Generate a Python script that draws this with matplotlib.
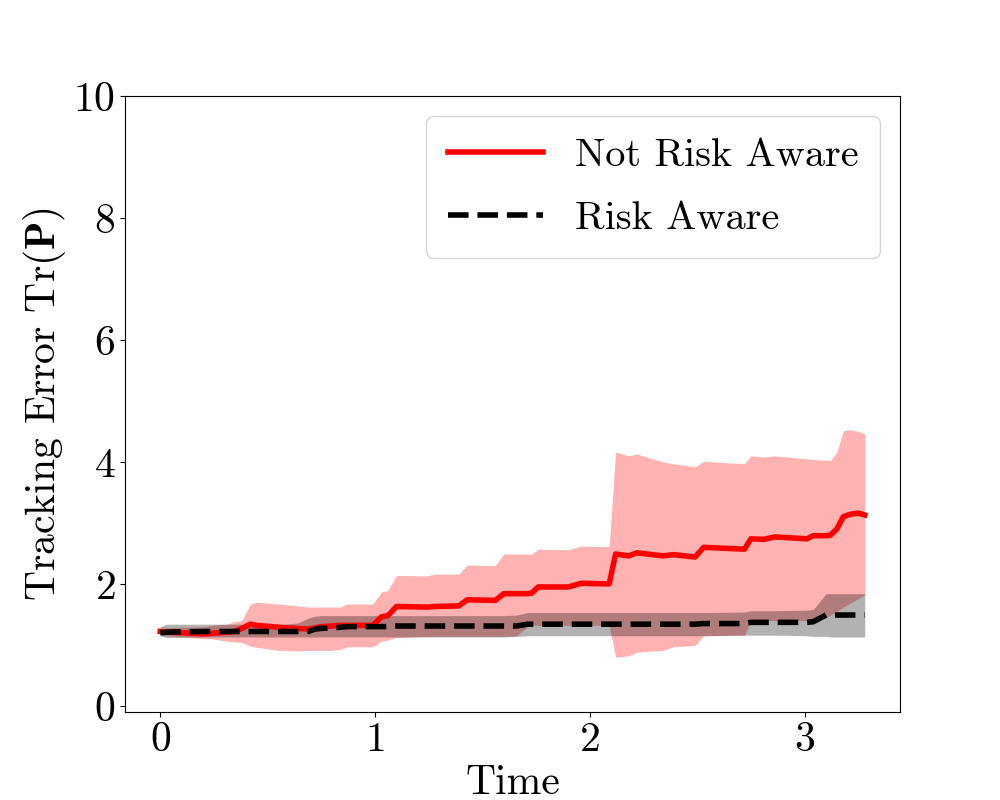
import matplotlib
matplotlib.use("Agg")
import matplotlib.pyplot as plt
import numpy as np

plt.rcParams['font.family'] = ['cmr10', 'DejaVu Serif']
plt.rcParams['mathtext.fontset'] = 'cm'
plt.rcParams['axes.formatter.use_mathtext'] = True

time = [0.00, 0.03, 0.21, 0.24, 0.31, 0.345, 0.38, 0.42, 0.45, 0.55, 0.58, 0.64,
        0.69, 0.72, 0.75, 0.80, 0.84, 0.87, 0.99, 1.03, 1.06, 1.10, 1.24, 1.28,
        1.39, 1.43, 1.56, 1.60, 1.66, 1.71, 1.73, 1.76, 1.90, 1.96, 2.09, 2.12,
        2.18, 2.22, 2.34, 2.39, 2.49, 2.53, 2.72, 2.75, 2.81, 2.86, 3.01, 3.04,
        3.10, 3.12, 3.15, 3.18, 3.21, 3.25, 3.28]

not_aware_mean = [1.22, 1.21, 1.18, 1.19, 1.21, 1.22, 1.27, 1.34, 1.32, 1.29, 1.28, 1.27,
                  1.26, 1.28, 1.30, 1.31, 1.32, 1.32, 1.32, 1.46, 1.48, 1.63, 1.62, 1.63,
                  1.64, 1.74, 1.73, 1.84, 1.84, 1.84, 1.85, 1.95, 1.95, 2.01, 2.00, 2.49,
                  2.46, 2.51, 2.46, 2.48, 2.44, 2.60, 2.57, 2.74, 2.73, 2.77, 2.74, 2.79,
                  2.79, 2.80, 2.90, 3.10, 3.14, 3.16, 3.13]

not_aware_upper = [1.28, 1.28, 1.30, 1.32, 1.34, 1.38, 1.40, 1.67, 1.70, 1.67, 1.66, 1.64,
                   1.62, 1.62, 1.62, 1.62, 1.62, 1.67, 1.67, 1.87, 1.89, 2.14, 2.13, 2.16,
                   2.16, 2.31, 2.30, 2.49, 2.49, 2.49, 2.49, 2.57, 2.56, 2.62, 2.61, 4.16,
                   4.10, 4.13, 4.00, 3.97, 3.92, 4.01, 3.97, 4.10, 4.08, 4.10, 4.05, 4.04,
                   4.03, 4.02, 4.16, 4.51, 4.53, 4.50, 4.46]

not_aware_lower = [1.16, 1.15, 1.10, 1.10, 1.06, 1.05, 1.04, 0.98, 0.96, 0.91, 0.91, 0.90,
                   0.91, 0.91, 0.91, 0.91, 0.93, 0.97, 0.97, 1.06, 1.08, 1.12, 1.14, 1.14,
                   1.14, 1.14, 1.14, 1.14, 1.15, 1.30, 1.32, 1.32, 1.32, 1.32, 1.32, 0.80,
                   0.82, 0.88, 0.91, 0.97, 0.99, 1.15, 1.16, 1.40, 1.40, 1.40, 1.40, 1.42,
                   1.45, 1.49, 1.55, 1.62, 1.68, 1.76, 1.82]

aware_mean = [1.20, 1.21, 1.22, 1.22, 1.22, 1.22, 1.22, 1.22, 1.22, 1.22, 1.22, 1.22,
              1.22, 1.26, 1.27, 1.28, 1.29, 1.30, 1.30, 1.30, 1.30, 1.31, 1.31, 1.31,
              1.31, 1.31, 1.31, 1.31, 1.31, 1.34, 1.34, 1.34, 1.34, 1.34, 1.34, 1.34,
              1.34, 1.34, 1.34, 1.34, 1.34, 1.35, 1.35, 1.37, 1.37, 1.37, 1.37, 1.38,
              1.49, 1.49, 1.49, 1.49, 1.49, 1.49, 1.49]

aware_upper = [1.30, 1.34, 1.34, 1.34, 1.34, 1.34, 1.34, 1.34, 1.34, 1.34, 1.34, 1.36,
               1.44, 1.47, 1.48, 1.48, 1.48, 1.48, 1.48, 1.48, 1.48, 1.48, 1.48, 1.48,
               1.48, 1.48, 1.48, 1.48, 1.49, 1.53, 1.53, 1.53, 1.53, 1.53, 1.53, 1.53,
               1.53, 1.53, 1.53, 1.53, 1.53, 1.53, 1.54, 1.56, 1.56, 1.56, 1.57, 1.58,
               1.84, 1.84, 1.84, 1.84, 1.84, 1.84, 1.84]

aware_lower = [1.15, 1.12, 1.13, 1.13, 1.13, 1.13, 1.13, 1.13, 1.13, 1.13, 1.13, 1.13,
               1.13, 1.13, 1.13, 1.13, 1.13, 1.13, 1.13, 1.13, 1.13, 1.13, 1.13, 1.13,
               1.13, 1.13, 1.13, 1.13, 1.14, 1.15, 1.15, 1.15, 1.15, 1.15, 1.15, 1.15,
               1.15, 1.15, 1.15, 1.15, 1.15, 1.15, 1.16, 1.16, 1.16, 1.16, 1.15, 1.14,
               1.14, 1.13, 1.13, 1.13, 1.13, 1.13, 1.13]

t = np.array(time)

fig, ax = plt.subplots(figsize=(10, 8), dpi=100)
ax.plot(t, not_aware_mean, color='red', lw=4, label='Not Risk Aware')
ax.fill_between(t, not_aware_lower, not_aware_upper, color='red', alpha=0.3, lw=0)
ax.plot(t, aware_mean, color='black', lw=4, ls='--', label='Risk Aware')
ax.fill_between(t, aware_lower, aware_upper, color='black', alpha=0.3, lw=0)

ax.set_ylim(-0.1, 10)
ax.set_xticks([0, 1, 2, 3])
ax.set_yticks([0, 2, 4, 6, 8, 10])
ax.tick_params(labelsize=30)
ax.set_xlabel('Time', fontsize=30)
ax.set_ylabel(r'Tracking Error Tr($\mathbf{P}$)', fontsize=30)
ax.legend(fontsize=29, loc='upper right', handlelength=2.36, handletextpad=0.8,
          labelspacing=0.67, borderpad=0.53)

fig.savefig('out.png', dpi=100)
